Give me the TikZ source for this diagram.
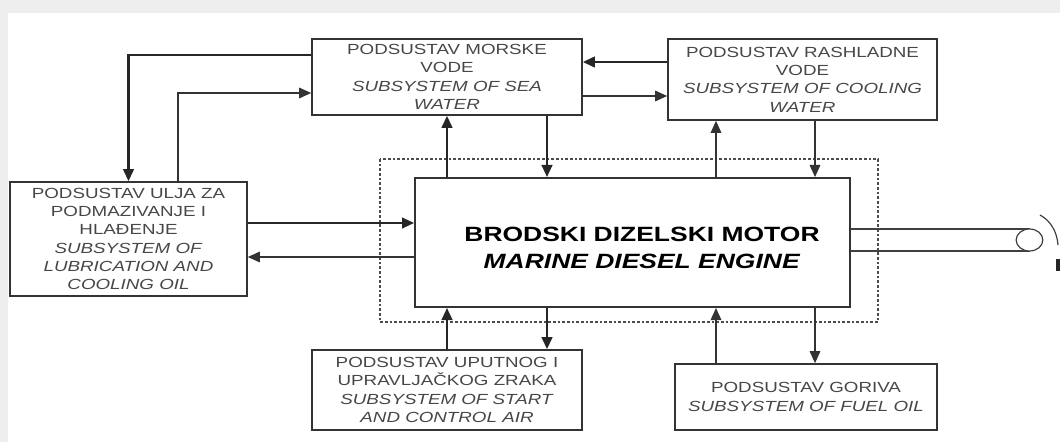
\documentclass[tikz,border=0pt]{standalone}
\usepackage{fontspec}
\setmainfont{Liberation Sans}
\newfontfamily\widesans[FakeStretch=1.28]{Liberation Sans}
\usetikzlibrary{arrows.meta,calc}

\begin{document}
\begin{tikzpicture}[x=0.75pt, y=-0.75pt,
        subbox/.style={draw=black!80, line width=1.3pt, fill=white, align=center, text=black!72,
            font={\widesans\fontsize{11}{13.7}\selectfont}, inner sep=0pt},
        thk/.style={line width=1.6pt, draw=black!85, -{Triangle[length=9pt,width=8pt]}},
        thn/.style={line width=0.8pt, draw=black!80, -{Triangle[length=9pt,width=8pt]}}]
        \definecolor{pagegray}{RGB}{238,238,238}

        % Page background with grey margin
        \useasboundingbox (0,0) rectangle (1060,442);
        \fill[pagegray] (0,0) rectangle (1060,442);
        \fill[white] (8,13) rectangle (1060,442);

        % Dashed engine boundary
        \draw[black!70, line width=0.8pt, dash pattern=on 2pt off 1.5pt] (380,159) rectangle (878,322);

        % Subsystem boxes
        \node[subbox, minimum width=202.5pt, minimum height=57pt] (sea) at (447,77)
            {PODSUSTAV MORSKE\\VODE\\\textit{SUBSYSTEM OF SEA}\\\textit{WATER}};
        \node[subbox, minimum width=201.75pt, minimum height=60.75pt] (cool) at (802.5,79.5)
            {PODSUSTAV RASHLADNE\\VODE\\\textit{SUBSYSTEM OF COOLING}\\\textit{WATER}};
        \node[subbox, minimum width=177.75pt, minimum height=85.5pt] (lub) at (128.5,239)
            {PODSUSTAV ULJA ZA\\PODMAZIVANJE I\\HLAĐENJE\\\textit{SUBSYSTEM OF}\\\textit{LUBRICATION AND}\\\textit{COOLING OIL}};
        \node[subbox, minimum width=202.5pt, minimum height=60pt] (air) at (447,390)
            {PODSUSTAV UPUTNOG I\\UPRAVLJAČKOG ZRAKA\\\textit{SUBSYSTEM OF START}\\\textit{AND CONTROL AIR}};
        \node[subbox, minimum width=196.5pt, minimum height=49.5pt] (fuel) at (806,397)
            {PODSUSTAV GORIVA\\\textit{SUBSYSTEM OF FUEL OIL}};

        % Engine
        \node[draw=black!80, line width=1.5pt, minimum width=326.25pt, minimum height=96.75pt] (eng) at (632.5,242.5) {};
        \node[align=center, font={\widesans\fontsize{15.5}{20}\selectfont\bfseries}] (engtxt) at (642,248)
            {BRODSKI DIZELSKI MOTOR\\\textit{MARINE DIESEL ENGINE}};

        % Columns and rows of the connectors
        \coordinate (xa) at (547,0);
        \coordinate (xb) at (716,0);
        \coordinate (xc) at (815,0);
        \coordinate (xl) at (178,0);
        \coordinate (ya) at (0,62);
        \coordinate (yb) at (0,96);
        \coordinate (yc) at (0,55);
        \coordinate (yd) at (0,93);
        \coordinate (ye) at (0,223);
        \coordinate (yf) at (0,257);

        % Sea water
        \draw[thk] (eng.north -| sea.south) -- (sea.south);
        \draw[thk] (sea.south -| xa) -- (eng.north -| xa);
        \draw[thk] (cool.west |- ya) -- (sea.east |- ya);
        \draw[thn] (sea.east |- yb) -- (cool.west |- yb);

        % Cooling water
        \draw[thn] (eng.north -| xb) -- (cool.south -| xb);
        \draw[thn] (cool.south -| xc) -- (eng.north -| xc);

        % Lubrication oil
        \draw[thk] (sea.west |- yc) -| (lub.north);
        \draw[thn] (lub.north -| xl) |- (sea.west |- yd);
        \draw[thk] (lub.east |- ye) -- (eng.west |- ye);
        \draw[thn] (eng.west |- yf) -- (lub.east |- yf);

        % Start air and fuel oil
        \draw[thk] (air.north) -- (air.north |- eng.south);
        \draw[thk] (eng.south -| xa) -- (air.north -| xa);
        \draw[thn] (fuel.north -| xb) -- (eng.south -| xb);
        \draw[thn] (eng.south -| xc) -- (fuel.north -| xc);

        % Shaft and propeller
        \coordinate (shaftend) at (1029.5,240);
        \draw[black!75, line width=0.9pt] (eng.east |- 0,229) -- (shaftend |- 0,229);
        \draw[black!75, line width=0.9pt] (eng.east |- 0,251) -- (shaftend |- 0,251);
        \draw[black!75, line width=0.9pt, fill=white] (shaftend) ellipse [x radius=10pt, y radius=8.25pt];
        \draw[black!75, line width=0.9pt] (1040,215) .. controls (1051,221) and (1057,232) .. (1058,245);
        \fill[black!85] (1056,259) rectangle (1060,271);
    \end{tikzpicture}
\end{document}
